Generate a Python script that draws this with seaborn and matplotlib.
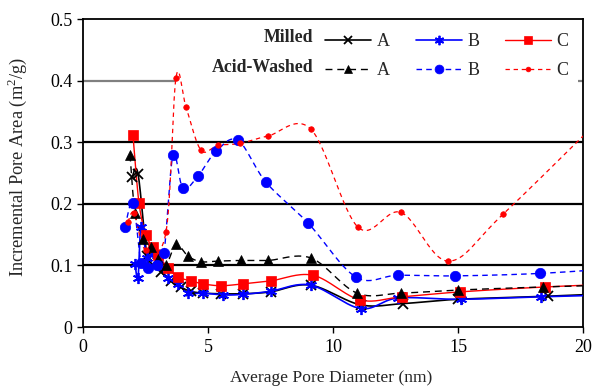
import numpy as np
import pandas as pd
import matplotlib
matplotlib.use("Agg")
import matplotlib.pyplot as plt
from matplotlib.patches import Rectangle
from matplotlib.lines import Line2D
import seaborn as sns

# ---- data ----
milled_a_x = [1.96, 2.2, 2.56, 2.8, 3.1, 3.5, 3.9, 4.3, 4.8, 5.5, 6.4, 7.5, 9.1, 11.1, 12.8, 15.0, 18.6, 22.0]
milled_a_y = [0.243, 0.249, 0.115, 0.100, 0.090, 0.075, 0.065, 0.058, 0.055, 0.054, 0.054, 0.057, 0.068, 0.036, 0.038, 0.045, 0.050, 0.056]

milled_b_x = [2.08, 2.2, 2.32, 2.56, 2.8, 3.0, 3.4, 3.8, 4.2, 4.8, 5.6, 6.4, 7.5, 9.1, 11.1, 12.6, 15.1, 18.3, 22.0]
milled_b_y = [0.103, 0.079, 0.162, 0.112, 0.120, 0.100, 0.080, 0.070, 0.055, 0.055, 0.052, 0.053, 0.058, 0.068, 0.030, 0.047, 0.045, 0.049, 0.053]

milled_c_x = [2.0, 2.24, 2.52, 2.8, 3.0, 3.4, 3.8, 4.32, 4.8, 5.52, 6.4, 7.52, 9.2, 11.08, 12.76, 15.08, 18.48, 22.0]
milled_c_y = [0.311, 0.201, 0.149, 0.130, 0.117, 0.096, 0.081, 0.075, 0.070, 0.067, 0.070, 0.075, 0.084, 0.044, 0.049, 0.057, 0.065, 0.071]

acid_a_x = [1.88, 2.08, 2.4, 2.72, 3.0, 3.32, 3.72, 4.2, 4.72, 5.4, 6.32, 7.4, 9.12, 10.96, 12.72, 15.0, 18.4, 22.0]
acid_a_y = [0.280, 0.185, 0.143, 0.130, 0.111, 0.100, 0.134, 0.115, 0.106, 0.107, 0.108, 0.108, 0.112, 0.055, 0.055, 0.060, 0.065, 0.069]

acid_b_x = [1.68, 2.0, 2.32, 2.6, 2.96, 3.24, 3.6, 4.0, 4.6, 5.32, 6.2, 7.32, 9.0, 10.92, 12.6, 14.88, 18.28, 22.0]
acid_b_y = [0.162, 0.202, 0.104, 0.096, 0.100, 0.120, 0.279, 0.225, 0.245, 0.285, 0.303, 0.235, 0.169, 0.081, 0.084, 0.083, 0.087, 0.097]

acid_c_x = [1.8, 2.04, 2.5, 3.32, 3.72, 4.12, 4.72, 5.4, 6.28, 7.4, 9.12, 11.0, 12.72, 14.6, 16.8, 21.5]
acid_c_y = [0.170, 0.185, 0.125, 0.154, 0.405, 0.357, 0.287, 0.295, 0.298, 0.310, 0.321, 0.162, 0.186, 0.107, 0.183, 0.370]

legend_labels = ["A", "B", "C"]
group_labels = ["Milled", "Acid-Washed"]
x_ticks = [0, 5, 10, 15, 20]
y_ticks = [0, 0.1, 0.2, 0.3, 0.4, 0.5]
y_ticklabels = ["0", "0.1", "0.2", "0.3", "0.4", "0.5"]


def smooth(xs, ys, n=30):
    """Excel-like smoothed line (cubic Bezier through points)."""
    sx = np.asarray(xs) / 20.0 * 500
    sy = np.asarray(ys) / 0.5 * 309
    P = np.column_stack([sx, sy])
    m = len(P)
    out = [P[0]]
    t = np.linspace(0, 1, n)[1:]
    for i in range(m - 1):
        p0 = P[i]
        p3 = P[i + 1]
        pm = P[i - 1] if i > 0 else P[i]
        pp = P[i + 2] if i + 2 < m else P[i + 1]
        c1 = p0 + (p3 - pm) / 6.0
        c2 = p3 - (pp - p0) / 6.0
        seg = ((1 - t) ** 3)[:, None] * p0 + (3 * (1 - t) ** 2 * t)[:, None] * c1 \
            + (3 * (1 - t) * t ** 2)[:, None] * c2 + (t ** 3)[:, None] * p3
        out.extend(seg)
    out = np.array(out)
    return out[:, 0] / 500 * 20.0, out[:, 1] / 309 * 0.5


sns.set_style("ticks")
plt.rcParams['font.family'] = ['Liberation Serif', 'DejaVu Serif']
plt.rcParams['mathtext.fontset'] = 'custom'
plt.rcParams['mathtext.rm'] = 'Liberation Serif'

fig = plt.figure(figsize=(5.95, 3.87), dpi=100)
ax = fig.add_axes([83 / 595, 1 - 327 / 387, 500 / 595, 308 / 387])

series = [
    (milled_a_x, milled_a_y, "black", "-", "x", 6.5, 1.2, None),
    (milled_b_x, milled_b_y, "#0000ff", "-", (6, 2, 0), 8, 1.2, None),
    (milled_c_x, milled_c_y, "#ff0000", "-", "s", 6.5, 1.0, None),
    (acid_a_x, acid_a_y, "black", "--", "^", 7, 1.0, (5, 3.5)),
    (acid_b_x, acid_b_y, "#0000ff", "--", "o", 7.5, 1.0, (4, 3)),
    (acid_c_x, acid_c_y, "#ff0000", "--", "o", 4, 0.9, (3.5, 3)),
]

handles = []
for i, (xs, ys, col, ls, mk, ms, lw, dash) in enumerate(series):
    sxs, sys_ = smooth(xs, ys)
    df = pd.DataFrame({"x": sxs, "y": sys_})
    sns.lineplot(data=df, x="x", y="y", sort=False, estimator=None, ax=ax,
                 color=col, linewidth=lw, zorder=3)
    line = ax.lines[-1]
    if dash is not None:
        line.set_dashes(dash)
    mew = 1.3 if (mk == "x" or isinstance(mk, tuple)) else 0.5
    ax.plot(xs, ys, linestyle="none", marker=mk, markersize=ms, color=col,
            markeredgewidth=mew, zorder=4)
    h = Line2D([0], [0], color=col, linewidth=lw, linestyle=ls, marker=mk,
               markersize=ms * 0.85, markeredgewidth=mew)
    if dash is not None:
        h.set_dashes(dash)
    handles.append(h)

ax.set_xlim(0, 20)
ax.set_ylim(0, 0.5)
ax.set_xticks(x_ticks)
ax.set_xticklabels([str(v) for v in x_ticks])
ax.set_yticks(y_ticks)
ax.set_yticklabels(y_ticklabels)
ax.tick_params(axis="both", direction="out", length=4, width=1, labelsize=13, colors="black")
ax.tick_params(axis="x", pad=5)
for s in ax.spines.values():
    s.set_visible(True)
    s.set_color("black")
    s.set_linewidth(1.3)

for yv in [0.1, 0.2, 0.3]:
    ax.axhline(yv, color="black", linewidth=1.6, zorder=1)
ax.axhline(0.4, color="#808080", linewidth=1.6, zorder=1)

# legend area covering the upper gridline
ax.add_patch(Rectangle(((176 - 83) / 500, (327 - 92) / 308),
                       (578 - 176) / 500, 70 / 308, transform=ax.transAxes,
                       facecolor="white", edgecolor="none", zorder=2))

order = [0, 3, 1, 4, 2, 5]
leg = ax.legend([handles[k] for k in order],
                [legend_labels[k % 3] for k in order],
                ncol=3, loc="upper left", bbox_to_anchor=((325 - 83) / 500, 1 - (33 - 19) / 308),
                frameon=False, fontsize=13, handlelength=2.55, handletextpad=0.3,
                columnspacing=1.45, labelspacing=0.68, borderpad=0.0, borderaxespad=0.0)
leg.set_zorder(5)
ax.text((313 - 83) / 500, 1 - (38 - 19) / 308, group_labels[0], transform=ax.transAxes,
        ha="right", va="center", fontsize=12.8, fontweight="bold")
ax.text((313 - 83) / 500, 1 - (67 - 19) / 308, group_labels[1], transform=ax.transAxes,
        ha="right", va="center", fontsize=12.8, fontweight="bold")

ax.set_xlabel("Average Pore Diameter (nm)", fontsize=12.6)
ax.set_ylabel("Incremental Pore Area (m$^2$/g)", fontsize=13.2)
ax.xaxis.set_label_coords((331 - 83) / 500, -(370 - 327) / 308)
ax.yaxis.set_label_coords((29 - 83) / 500, 1 - (167 - 19) / 308)

fig.savefig("out.png", dpi=100)
